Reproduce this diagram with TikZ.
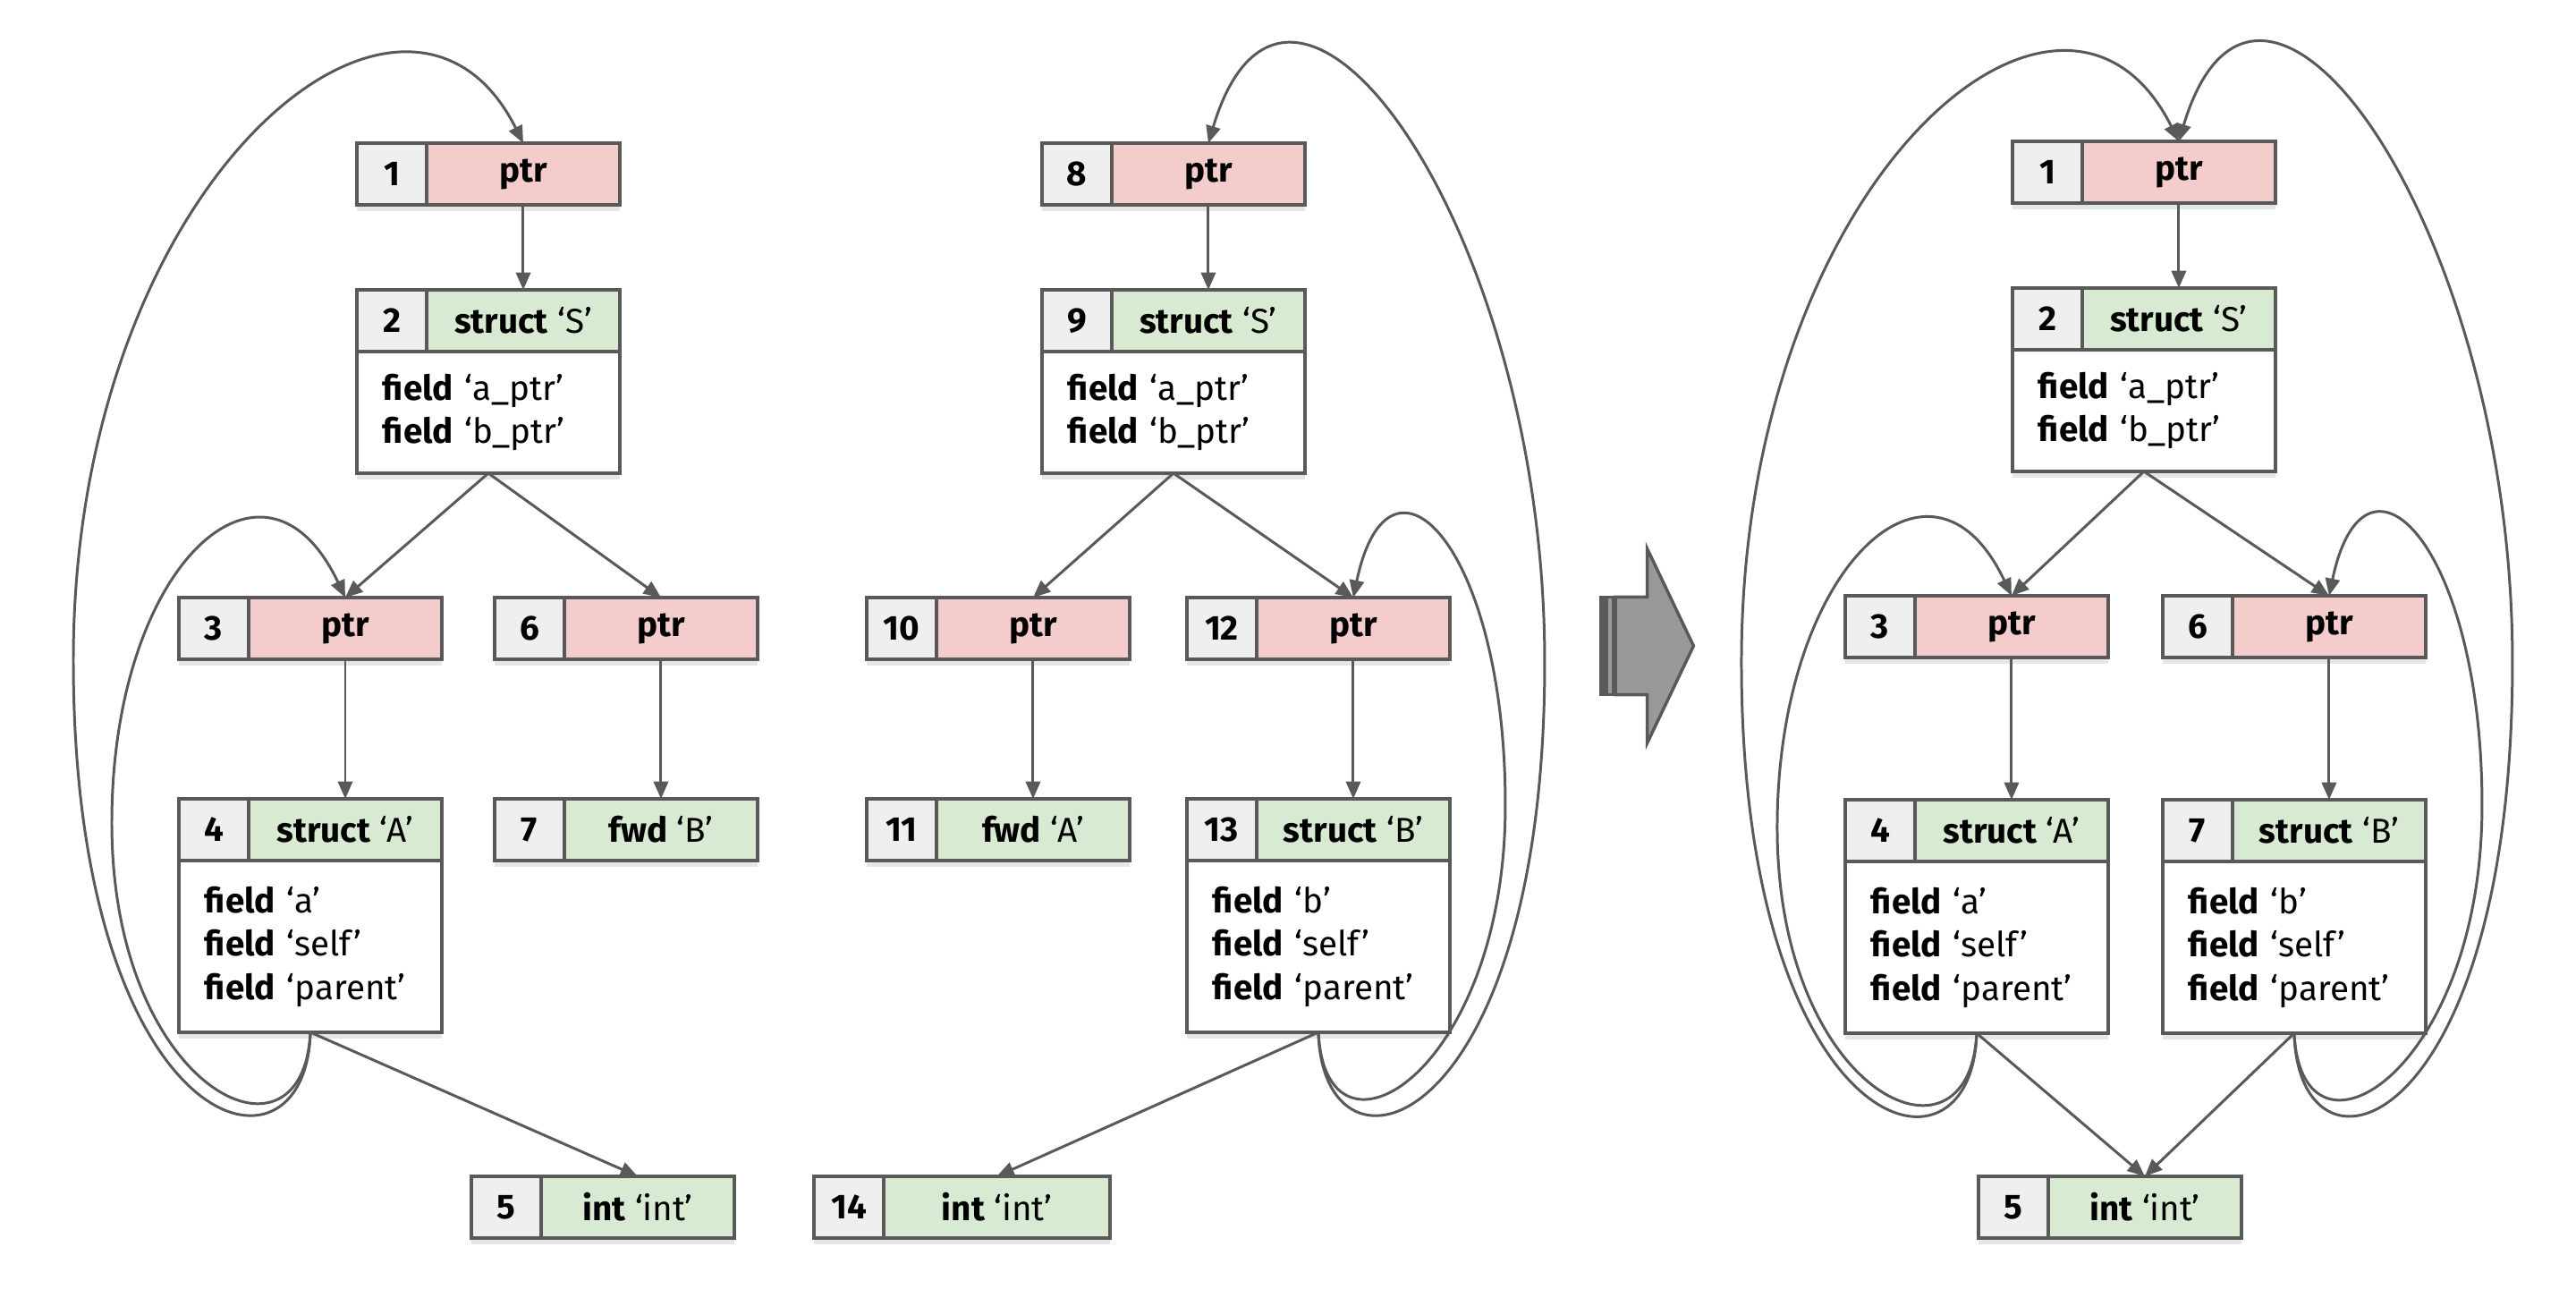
\documentclass[tikz,border=0pt]{standalone}
\usepackage{fontspec}
\setmainfont{Fira Sans}
\usepackage{tikz}
\usetikzlibrary{arrows.meta,positioning,shadows}
\definecolor{idgray}{HTML}{EFEFEF}
\definecolor{ptrred}{HTML}{F4CCCC}
\definecolor{typegreen}{HTML}{D9EAD3}
\definecolor{linegray}{HTML}{595959}
\definecolor{bigarrow}{HTML}{999999}

\begin{document}
\begin{tikzpicture}[scale=0.2]
\tikzstyle{every node}+=[inner sep=0pt, outer sep=0pt, font=\fontsize{11}{13.8}\selectfont]
\tikzstyle{cell}=[draw=linegray, line width=1pt, minimum height=0.69cm, drop shadow={shadow xshift=0pt, shadow yshift=-2pt, opacity=0.2}]
\tikzstyle{idcell}=[cell, fill=idgray, minimum width=0.78cm, font=\fontsize{11}{13.8}\selectfont\bfseries]
\tikzstyle{ptrcell}=[cell, fill=ptrred, minimum width=2.16cm, font=\fontsize{11}{13.8}\selectfont\bfseries]
\tikzstyle{typecell}=[cell, fill=typegreen, minimum width=2.16cm]
\tikzstyle{fieldbox}=[cell, fill=white, text width=2.36cm, inner xsep=0.29cm, align=left, anchor=north west]
\tikzstyle{edge}=[draw=linegray, line width=0.85pt, -{Triangle[length=5.5pt,width=4.6pt]}]
\useasboundingbox (0,0) rectangle (144,-72.5);
% left graph
\node [idcell] (l1) at (21.9,-9.725) {1};
\node [ptrcell, right=0pt of l1] (l1t) {ptr};
\node [idcell] (l2) at (21.9,-17.925) {2};
\node [typecell, right=0pt of l2] (l2t) {\textbf{struct} ‘S’};
\node [fieldbox, minimum height=1.36cm] (l2f) at (l2.south west) {\textbf{field} ‘a\_ptr’\\\textbf{field} ‘b\_ptr’};
\node [idcell] (l3) at (11.95,-35.125) {3};
\node [ptrcell, right=0pt of l3] (l3t) {ptr};
\node [idcell] (l6) at (29.6,-35.125) {6};
\node [ptrcell, right=0pt of l6] (l6t) {ptr};
\node [idcell] (l4) at (11.95,-46.375) {4};
\node [typecell, right=0pt of l4] (l4t) {\textbf{struct} ‘A’};
\node [fieldbox, minimum height=1.92cm] (l4f) at (l4.south west) {\textbf{field} ‘a’\\\textbf{field} ‘self’\\\textbf{field} ‘parent’};
\node [idcell] (l7) at (29.6,-46.375) {7};
\node [typecell, right=0pt of l7] (l7t) {\textbf{fwd} ‘B’};
\node [idcell] (l5) at (28.3,-67.475) {5};
\node [typecell, right=0pt of l5] (l5t) {\textbf{int} ‘int’};
\draw [edge] (l1t.south) -- (l2t.north);
\draw [edge] (l2f.south) -- (l3t.north);
\draw [edge] (l2f.south) -- (l6t.north);
\draw [edge] (l3t.south) -- (l4t.north);
\draw [edge] (l6t.south) -- (l7t.north);
\draw [edge] (l4f.south) -- (l5t.north);
\coordinate (l4self) at (6.25,-46);
\coordinate (l4parent) at (4.1,-36.9);
\draw [edge] (l4f.south) .. controls +(-0.4,-8.3) and +(0,-15) .. (l4self) .. controls +(0,14.5) and +(-4.5,9.5) .. (l3t.north);
\draw [edge] (l4f.south) .. controls +(-0.25,-9.3) and +(0,-26.6) .. (l4parent) .. controls +(0,26.9) and +(-6.5,13) .. (l1t.north);
% middle graph
\node [idcell] (m8) at (60.2,-9.725) {8};
\node [ptrcell, right=0pt of m8] (m8t) {ptr};
\node [idcell] (m9) at (60.2,-17.925) {9};
\node [typecell, right=0pt of m9] (m9t) {\textbf{struct} ‘S’};
\node [fieldbox, minimum height=1.36cm] (m9f) at (m9.south west) {\textbf{field} ‘a\_ptr’\\\textbf{field} ‘b\_ptr’};
\node [idcell] (m10) at (50.4,-35.125) {10};
\node [ptrcell, right=0pt of m10] (m10t) {ptr};
\node [idcell] (m12) at (68.3,-35.125) {12};
\node [ptrcell, right=0pt of m12] (m12t) {ptr};
\node [idcell] (m11) at (50.4,-46.375) {11};
\node [typecell, right=0pt of m11] (m11t) {\textbf{fwd} ‘A’};
\node [idcell] (m13) at (68.3,-46.375) {13};
\node [typecell, right=0pt of m13] (m13t) {\textbf{struct} ‘B’};
\node [fieldbox, minimum height=1.92cm] (m13f) at (m13.south west) {\textbf{field} ‘b’\\\textbf{field} ‘self’\\\textbf{field} ‘parent’};
\node [idcell] (m14) at (47.45,-67.475) {14};
\node [typecell, minimum width=2.53cm, right=0pt of m14] (m14t) {\textbf{int} ‘int’};
\draw [edge] (m8t.south) -- (m9t.north);
\draw [edge] (m9f.south) -- (m10t.north);
\draw [edge] (m9f.south) -- (m12t.north);
\draw [edge] (m10t.south) -- (m11t.north);
\draw [edge] (m12t.south) -- (m13t.north);
\draw [edge] (m13f.south) -- (m14t.north);
\coordinate (m13self) at (84.15,-45);
\coordinate (m13parent) at (86.35,-37);
\draw [edge] (m13f.south) .. controls +(0.4,-8.3) and +(0,-15) .. (m13self) .. controls +(0,14.5) and +(2,9.5) .. (m12t.north);
\draw [edge] (m13f.south) .. controls +(0.25,-9.3) and +(0,-26.5) .. (m13parent) .. controls +(0,24.5) and +(4.5,15) .. (m8t.north);
% big arrow
\filldraw [fill=bigarrow, draw=linegray, line width=1pt] (90.3,-33.37) -- (92.08,-33.37) -- (92.08,-30.67) -- (94.67,-36.1) -- (92.08,-41.53) -- (92.08,-38.83) -- (90.3,-38.83) -- cycle;
\filldraw [fill=bigarrow, draw=linegray, line width=1pt] (89.8,-33.37) rectangle (90.2,-38.83);
\filldraw [fill=bigarrow, draw=linegray, line width=1pt] (89.5,-33.37) rectangle (89.7,-38.83);
% right graph
\node [idcell] (r1) at (114.45,-9.625) {1};
\node [ptrcell, right=0pt of r1] (r1t) {ptr};
\node [idcell] (r2) at (114.45,-17.825) {2};
\node [typecell, right=0pt of r2] (r2t) {\textbf{struct} ‘S’};
\node [fieldbox, minimum height=1.36cm] (r2f) at (r2.south west) {\textbf{field} ‘a\_ptr’\\\textbf{field} ‘b\_ptr’};
\node [idcell] (r3) at (105.1,-35.025) {3};
\node [ptrcell, right=0pt of r3] (r3t) {ptr};
\node [idcell] (r6) at (122.85,-35.025) {6};
\node [ptrcell, right=0pt of r6] (r6t) {ptr};
\node [idcell] (r4) at (105.1,-46.425) {4};
\node [typecell, right=0pt of r4] (r4t) {\textbf{struct} ‘A’};
\node [fieldbox, minimum height=1.92cm] (r4f) at (r4.south west) {\textbf{field} ‘a’\\\textbf{field} ‘self’\\\textbf{field} ‘parent’};
\node [idcell] (r7) at (122.85,-46.425) {7};
\node [typecell, right=0pt of r7] (r7t) {\textbf{struct} ‘B’};
\node [fieldbox, minimum height=1.92cm] (r7f) at (r7.south west) {\textbf{field} ‘b’\\\textbf{field} ‘self’\\\textbf{field} ‘parent’};
\node [idcell] (r5) at (112.55,-67.475) {5};
\node [typecell, right=0pt of r5] (r5t) {\textbf{int} ‘int’};
\draw [edge] (r1t.south) -- (r2t.north);
\draw [edge] (r2f.south) -- (r3t.north);
\draw [edge] (r2f.south) -- (r6t.north);
\draw [edge] (r3t.south) -- (r4t.north);
\draw [edge] (r6t.south) -- (r7t.north);
\draw [edge] (r4f.south) -- (r5t.north);
\draw [edge] (r7f.south) -- (r5t.north);
\coordinate (r4self) at (99.35,-46.25);
\coordinate (r4parent) at (97.35,-37);
\coordinate (r7self) at (138.75,-45);
\coordinate (r7parent) at (140.45,-37);
\draw [edge] (r4f.south) .. controls +(-0.4,-8.3) and +(0,-15) .. (r4self) .. controls +(0,14.5) and +(-4.5,9.5) .. (r3t.north);
\draw [edge] (r4f.south) .. controls +(-0.25,-9.3) and +(0,-26.6) .. (r4parent) .. controls +(0,26.9) and +(-6.5,13) .. (r1t.north);
\draw [edge] (r7f.south) .. controls +(0.4,-8.3) and +(0,-15) .. (r7self) .. controls +(0,14.5) and +(2,9.5) .. (r6t.north);
\draw [edge] (r7f.south) .. controls +(0.25,-9.3) and +(0,-26.5) .. (r7parent) .. controls +(0,24.5) and +(4.5,15) .. (r1t.north);
\end{tikzpicture}
\end{document}
